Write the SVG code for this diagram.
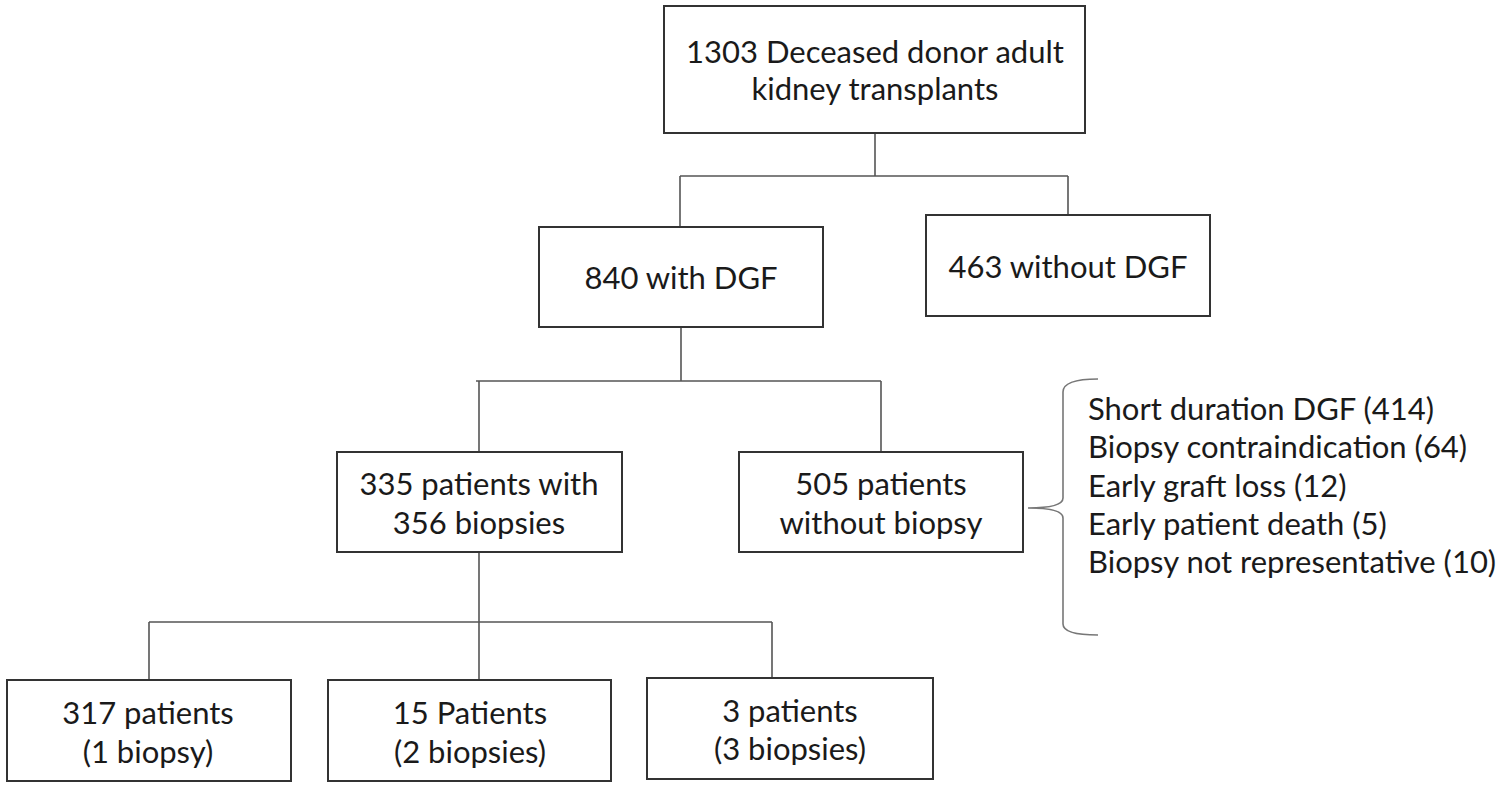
<svg xmlns="http://www.w3.org/2000/svg" width="1500" height="788" viewBox="0 0 1500 788">
  <style>
    .box { fill: #ffffff; stroke: #333333; stroke-width: 2; }
    .lbl { font-family: Lato, "Open Sans", "Liberation Sans", sans-serif; font-size: 31px; fill: #1a1a1a; text-anchor: middle; }
    .lst { font-family: Lato, "Open Sans", "Liberation Sans", sans-serif; font-size: 31px; fill: #1a1a1a; text-anchor: start; }
    .conn { fill: none; stroke: #555555; stroke-width: 1.6; }
    .brace { fill: none; stroke: #777777; stroke-width: 1.6; }
  </style>
  <rect width="1500" height="788" fill="#ffffff"/>

  <g id="connectors">
    <path class="conn" d="M875,133 V176 M680,176 H1068 M680,176 V227 M1068,176 V215"/>
    <path class="conn" d="M681,327 V381 M476,381 H881 M479,381 V452 M881,381 V452"/>
    <path class="conn" d="M479,552 V622 M149,622 H772 M149,622 V680 M479,622 V680 M772,622 V678"/>
  </g>

  <g id="n1303">
    <rect class="box" x="664" y="6" width="421" height="127"/>
    <text class="lbl" x="875" y="63">1303 Deceased donor adult</text>
    <text class="lbl" x="875" y="100">kidney transplants</text>
  </g>
  <g id="n840">
    <rect class="box" x="539" y="227" width="284" height="100"/>
    <text class="lbl" x="681" y="289">840 with DGF</text>
  </g>
  <g id="n463">
    <rect class="box" x="926" y="215" width="284" height="101"/>
    <text class="lbl" x="1068" y="278">463 without DGF</text>
  </g>
  <g id="n335">
    <rect class="box" x="337" y="452" width="285" height="100"/>
    <text class="lbl" x="479" y="495">335 patients with</text>
    <text class="lbl" x="479" y="534">356 biopsies</text>
  </g>
  <g id="n505">
    <rect class="box" x="739" y="452" width="284" height="100"/>
    <text class="lbl" x="881" y="495">505 patients</text>
    <text class="lbl" x="881" y="534">without biopsy</text>
  </g>
  <g id="reasons">
    <path class="brace" d="M1098,379 Q1063,379 1063,392 L1063,498 Q1063,508 1028,508 Q1063,508 1063,518 L1063,624 Q1063,635 1098,635"/>
    <text class="lst" x="1088" y="420">Short duration DGF (414)</text>
    <text class="lst" x="1088" y="458">Biopsy contraindication (64)</text>
    <text class="lst" x="1088" y="497">Early graft loss (12)</text>
    <text class="lst" x="1088" y="535">Early patient death (5)</text>
    <text class="lst" x="1088" y="573">Biopsy not representative (10)</text>
  </g>
  <g id="n317">
    <rect class="box" x="7" y="680" width="284" height="101"/>
    <text class="lbl" x="148" y="724">317 patients</text>
    <text class="lbl" x="148" y="763">(1 biopsy)</text>
  </g>
  <g id="n15">
    <rect class="box" x="328" y="680" width="283" height="101"/>
    <text class="lbl" x="470" y="724">15 Patients</text>
    <text class="lbl" x="470" y="763">(2 biopsies)</text>
  </g>
  <g id="n3">
    <rect class="box" x="647" y="678" width="286" height="101"/>
    <text class="lbl" x="790" y="722">3 patients</text>
    <text class="lbl" x="790" y="760">(3 biopsies)</text>
  </g>
</svg>
